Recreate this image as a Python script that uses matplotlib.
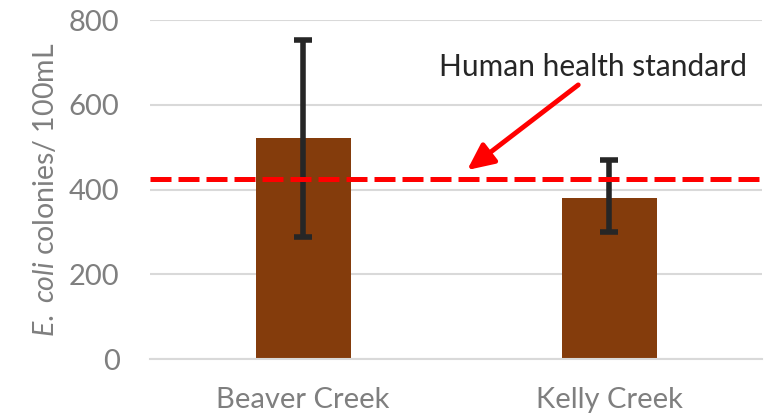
import matplotlib
matplotlib.use("Agg")
import matplotlib.pyplot as plt

# data
sites = ["Beaver Creek", "Kelly Creek"]
means = [521, 380]
err_low = [232, 80]     # mean - lower whisker
err_high = [232, 90]    # upper whisker - mean
standard = 424
yticks = [0, 200, 400, 600, 800]

plt.rcParams["font.family"] = ["Lato", "DejaVu Sans"]
plt.rcParams["mathtext.fontset"] = "custom"
plt.rcParams["mathtext.it"] = "Lato:italic"
plt.rcParams["mathtext.rm"] = "Lato"

GRAY = "#7f7f7f"
fig = plt.figure(figsize=(7.66, 4.18), dpi=100)
ax = fig.add_axes([0.196, 0.141, 0.799, 0.811])

x = range(len(sites))
ax.bar(x, means, width=0.31, color="#843c0c", zorder=2)
ax.errorbar(x, means, yerr=[err_low, err_high], fmt="none", ecolor="#262626",
            elinewidth=4, capsize=6.5, capthick=4, zorder=3)
ax.axhline(standard, color="#ff0000", lw=3.6, dashes=(4.2, 1.4), zorder=4)

ax.set_xlim(-0.5, 1.5)
ax.set_ylim(0, 800)
ax.set_yticks(yticks)
ax.set_xticks(list(x))
ax.set_xticklabels(sites)
ax.yaxis.grid(True, color="#d9d9d9", lw=1.5, zorder=0)
for s in ("top", "right", "left"):
    ax.spines[s].set_visible(False)
ax.spines["bottom"].set_color("#d9d9d9")
ax.spines["bottom"].set_linewidth(1.5)
ax.tick_params(axis="both", length=0, labelsize=21, colors=GRAY)
ax.tick_params(axis="y", pad=22)
ax.tick_params(axis="x", pad=20)

ax.set_ylabel(r"$\it{E.\ coli}$ colonies/ 100mL", fontsize=20.5, color=GRAY, labelpad=7)

# label + arrow pointing at the standard line
ax.text(0.948, 689, "Human health standard", ha="center", va="center",
        fontsize=21.5, color="#262626")
ax.annotate("", xy=(0.536, 446), xytext=(0.899, 647),
            arrowprops=dict(arrowstyle="-|>,head_length=1.6,head_width=0.75",
                            color="#ff0000", lw=3.5, shrinkA=0, shrinkB=0))

fig.savefig("out.png", dpi=100)
